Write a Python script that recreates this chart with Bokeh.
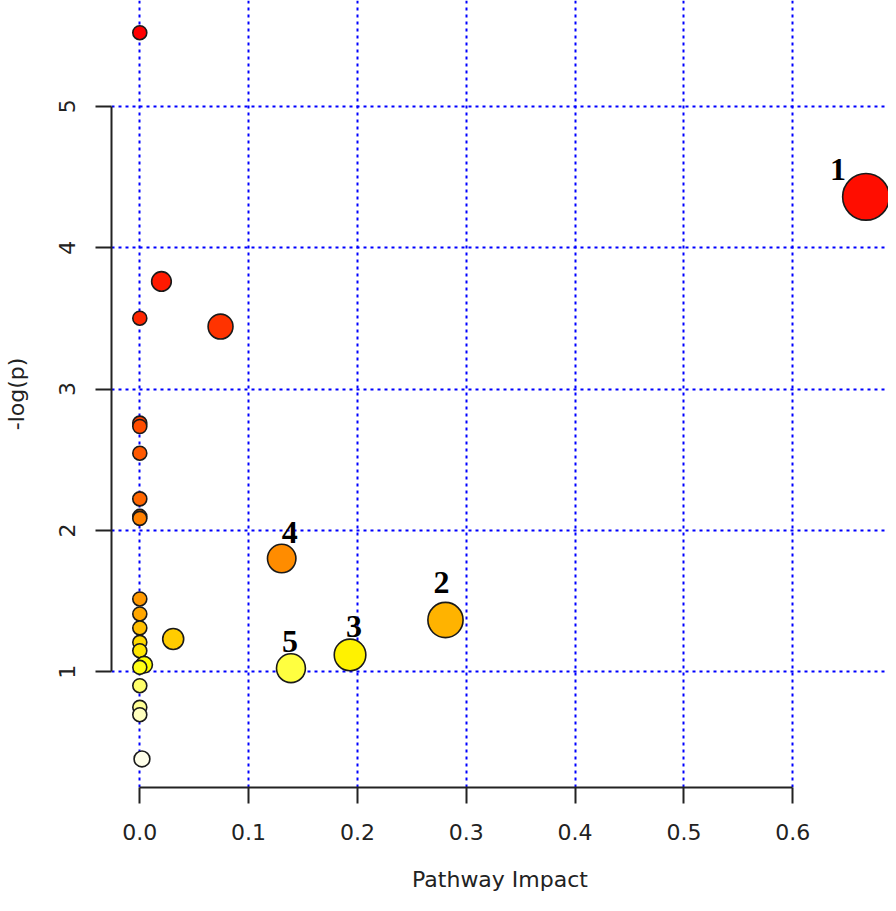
import numpy as np
from bokeh.plotting import figure
from bokeh.models import ColumnDataSource, FixedTicker, Range1d
from bokeh.core.properties import value
from bokeh.embed import file_html
from bokeh.resources import INLINE

# ---- data ----
impact = [0.0, 0.6673, 0.0199, 0.0, 0.0742, 0.0, 0.0, 0.0, 0.0, 0.0, 0.0,
          0.1304, 0.0, 0.0, 0.2809, 0.0, 0.0307, 0.0, 0.0, 0.1932, 0.0040,
          0.0, 0.1389, 0.0, 0.0, 0.0, 0.0020]
neglogp = [5.521, 4.360, 3.761, 3.501, 3.442, 2.759, 2.735, 2.546, 2.223, 2.099,
           2.085, 1.801, 1.515, 1.409, 1.366, 1.310, 1.232, 1.208, 1.149, 1.119,
           1.050, 1.031, 1.025, 0.901, 0.748, 0.696, 0.383]
node_labels = ["", "1", "", "", "", "", "", "", "", "", "",
               "4", "", "", "2", "", "", "", "", "3",
               "", "", "5", "", "", "", ""]

x_ticks = [0.0, 0.1, 0.2, 0.3, 0.4, 0.5, 0.6]
y_ticks = [1, 2, 3, 4, 5]

# ---- styles ----
fill_colors = ["#FF0000", "#FF0D00", "#FF1A00", "#FF2600", "#FF3300", "#FF4000",
               "#FF4D00", "#FF5900", "#FF6600", "#FF7300", "#FF8000", "#FF8C00",
               "#FF9900", "#FFA600", "#FFB300", "#FFBF00", "#FFCC00", "#FFD900",
               "#FFE600", "#FFF200", "#FFFF00", "#FFFF15", "#FFFF40", "#FFFF6A",
               "#FFFF95", "#FFFFBF", "#FFFFEA"]
# label offsets in pixels relative to their point (right, up)
lab_dx = {"1": -28, "2": -4, "3": 4, "4": 8, "5": -1}
lab_dy = {"1": 27, "2": 38, "3": 28, "4": 26, "5": 27}

sizes = [14 + 40 * np.sqrt(v) for v in impact]

src = ColumnDataSource(dict(x=impact, y=neglogp, c=fill_colors, s=sizes))

p = figure(width=888, height=895, output_backend="svg", toolbar_location=None,
           x_range=Range1d(-0.026, 0.688), y_range=Range1d(0.181, 5.749),
           min_border_left=111, min_border_right=0, min_border_top=0,
           min_border_bottom=108)
p.outline_line_color = None
p.background_fill_color = "white"

# grid
p.xgrid.ticker = FixedTicker(ticks=x_ticks)
p.ygrid.ticker = FixedTicker(ticks=y_ticks)
for g in (p.xgrid, p.ygrid):
    g.grid_line_color = "#0000FF"
    g.grid_line_dash = "3 4"
    g.grid_line_width = 2

# axes
p.xaxis.ticker = FixedTicker(ticks=x_ticks)
p.yaxis.ticker = FixedTicker(ticks=y_ticks)
p.xaxis.bounds = (0.0, 0.6)
p.yaxis.bounds = (1, 5)
p.xaxis.major_label_overrides = {t: f"{t:.1f}" for t in x_ticks}
p.yaxis.major_label_overrides = {t: str(t) for t in y_ticks}
p.yaxis.major_label_orientation = "vertical"
for ax in (p.xaxis[0], p.yaxis[0]):
    ax.axis_line_color = "#222222"
    ax.axis_line_width = 2
    ax.major_tick_line_color = "#222222"
    ax.major_tick_line_width = 2
    ax.major_tick_out = 16
    ax.major_tick_in = 0
    ax.minor_tick_line_color = None
    ax.major_label_text_font = "DejaVu Sans"
    ax.major_label_text_font_size = "22px"
    ax.major_label_text_color = "#222222"
    ax.axis_label_text_font = "DejaVu Sans"
    ax.axis_label_text_font_size = "22px"
    ax.axis_label_text_font_style = "normal"
    ax.axis_label_text_color = "#222222"
p.xaxis.axis_label = "Pathway Impact"
p.yaxis.axis_label = "-log(p)"
p.xaxis.major_label_standoff = 20
p.xaxis.axis_label_standoff = 24
p.yaxis.major_label_standoff = 20
p.yaxis.axis_label_standoff = 28

p.scatter("x", "y", source=src, size="s", fill_color="c", line_color="#1a1a1a",
          line_width=1.6, marker="circle")

# one text glyph per node label, placed at its point with a pixel offset
for xi, yi, t in zip(impact, neglogp, node_labels):
    if t:
        p.text(x=[xi], y=[yi], text=[t], x_offset=lab_dx[t], y_offset=-lab_dy[t],
               text_font=value("Liberation Serif"), text_font_style="bold",
               text_font_size="32px", text_align="center", text_baseline="middle",
               text_color="black")

open("out.html", "w").write(file_html(p, INLINE))
